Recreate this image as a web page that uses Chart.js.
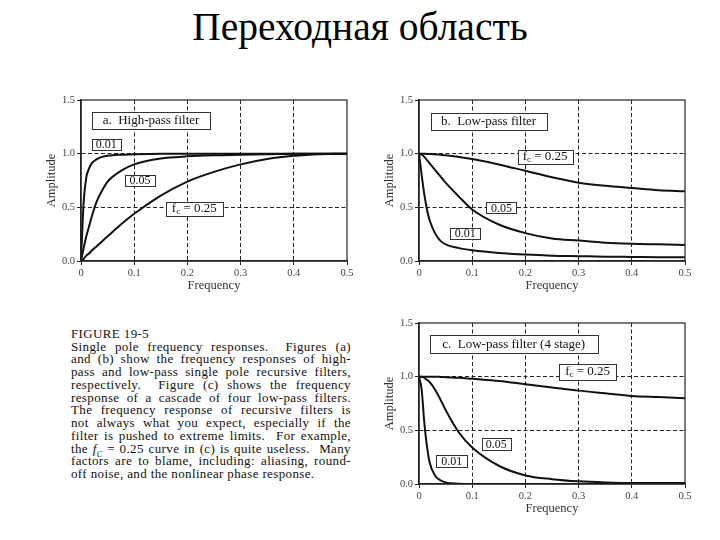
<!DOCTYPE html>
<html>
<head>
<meta charset="utf-8">
<script src="https://cdn.jsdelivr.net/npm/chart.js@4/dist/chart.umd.min.js"></script>
<style>
  html, body { margin: 0; padding: 0; background: #fff; }
  body { width: 720px; height: 540px; position: relative; overflow: hidden; font-family: "Liberation Serif", "DejaVu Serif", serif; }
  #title { position: absolute; left: 0; width: 720px; top: 7px; text-align: center; font-size: 39.5px; line-height: 40px; color: #000; }
  canvas { position: absolute; }
  #caption { position: absolute; left: 71px; top: 328px; width: 280px; font-size: 13px; letter-spacing: 0.37px; line-height: 12.73px; color: #111; }
  #caption .j { text-align: justify; text-align-last: justify; }
  #caption sub { font-size: 8px; line-height: 0; }
</style>
</head>
<body>
<div id="title">Переходная область</div>
<canvas id="chA" width="321" height="209" style="left:40px;top:88px"></canvas>
<canvas id="chB" width="321" height="209" style="left:378px;top:88px"></canvas>
<canvas id="chC" width="321" height="209" style="left:378px;top:311px"></canvas>

<div id="caption">
  <div>FIGURE 19-5</div>
  <div class="j">Single pole frequency responses.&nbsp; Figures (a)</div>
  <div class="j">and (b) show the frequency responses of high-</div>
  <div class="j">pass and low-pass single pole recursive filters,</div>
  <div class="j">respectively.&nbsp; Figure (c) shows the frequency</div>
  <div class="j">response of a cascade of four low-pass filters.</div>
  <div class="j">The frequency response of recursive filters is</div>
  <div class="j">not always what you expect, especially if the</div>
  <div class="j">filter is pushed to extreme limits.&nbsp; For example,</div>
  <div class="j">the <i>f</i><sub><i>C</i></sub> = 0.25 curve in (c) is quite useless.&nbsp; Many</div>
  <div class="j">factors are to blame, including: aliasing, round-</div>
  <div>off noise, and the nonlinear phase response.</div>
</div>

<script>
// sample frequencies
const freq = [0, 0.005, 0.01, 0.015, 0.02, 0.03, 0.04, 0.05, 0.075, 0.1, 0.15, 0.2, 0.25, 0.3, 0.35, 0.4, 0.45, 0.5];

// a. high-pass filter
const hp001 = [0, 0.55, 0.78, 0.86, 0.91, 0.95, 0.97, 0.98, 0.99, 0.995, 1, 1, 1, 1, 1, 1, 1, 1];
const hp005 = [0, 0.12, 0.23, 0.32, 0.41, 0.56, 0.66, 0.74, 0.84, 0.9, 0.955, 0.975, 0.985, 0.99, 0.995, 1, 1, 1];
const hp025 = [0, 0.02, 0.05, 0.07, 0.095, 0.14, 0.185, 0.23, 0.34, 0.44, 0.61, 0.74, 0.83, 0.9, 0.95, 0.98, 0.995, 1];

// b. low-pass filter
const lp001 = [1, 0.8, 0.62, 0.48, 0.38, 0.26, 0.19, 0.155, 0.12, 0.1, 0.075, 0.06, 0.05, 0.045, 0.04, 0.038, 0.036, 0.035];
const lp005 = [1, 0.99, 0.97, 0.94, 0.91, 0.85, 0.79, 0.73, 0.6, 0.48, 0.34, 0.26, 0.21, 0.19, 0.17, 0.16, 0.155, 0.15];
const lp025 = [1, 1, 1, 0.998, 0.997, 0.995, 0.99, 0.985, 0.97, 0.95, 0.9, 0.84, 0.78, 0.73, 0.7, 0.68, 0.66, 0.65];

// c. low-pass filter (4 stage)
const lp4001 = [1, 0.88, 0.57, 0.35, 0.2, 0.08, 0.035, 0.015, 0.003, 0, 0, 0, 0, 0, 0, 0, 0, 0];
const lp4005 = [1, 0.999, 0.99, 0.97, 0.95, 0.88, 0.79, 0.69, 0.48, 0.34, 0.17, 0.08, 0.045, 0.025, 0.015, 0.01, 0.01, 0.01];
const lp4025 = [1, 1, 1, 1, 1, 1, 0.998, 0.995, 0.99, 0.98, 0.96, 0.93, 0.9, 0.87, 0.845, 0.82, 0.81, 0.8];

// tick labels
const xTickLabels = ["0", "0.1", "0.2", "0.3", "0.4", "0.5"];
const yTickLabels = ["0.0", "0.5", "1.0", "1.5"];

const SERIF = '"Liberation Serif", "DejaVu Serif", serif';

function toPoints(ys) {
  return freq.map((x, i) => ({ x: x, y: ys[i] }));
}

function curve(ys) {
  return {
    data: toPoints(ys),
    borderColor: "#111",
    borderWidth: 2,
    pointRadius: 0,
    fill: false,
    cubicInterpolationMode: "monotone"
  };
}

// frame round the plot area
const framePlugin = {
  id: "frame",
  afterDatasetsDraw(chart) {
    const a = chart.chartArea;
    const ctx = chart.ctx;
    ctx.save();
    ctx.strokeStyle = "#222";
    ctx.lineWidth = 1.2;
    ctx.strokeRect(a.left, a.top, a.right - a.left, a.bottom - a.top);
    ctx.restore();
  }
};

// boxed labels inside the plot
const boxLabelPlugin = {
  id: "boxLabels",
  afterDraw(chart, args, opts) {
    const ctx = chart.ctx;
    const sx = chart.scales.x, sy = chart.scales.y;
    (opts.items || []).forEach(it => {
      const cx = sx.getPixelForValue(it.x);
      const cy = sy.getPixelForValue(it.y);
      ctx.save();
      ctx.fillStyle = "#fff";
      ctx.strokeStyle = "#333";
      ctx.lineWidth = 1;
      const l = Math.round(cx - it.w / 2) + 0.5, t = Math.round(cy - it.h / 2) + 0.5;
      ctx.fillRect(l, t, it.w, it.h);
      ctx.strokeRect(l, t, it.w, it.h);
      ctx.fillStyle = "#111";
      ctx.textBaseline = "middle";
      const fs = it.size || 12;
      if (it.fc) {
        // "f" with subscript c, then " = 0.25"
        const p1 = "f", p3 = " = " + it.text;
        ctx.font = (fs - 4) + "px " + SERIF;
        const wc = ctx.measureText("c").width;
        ctx.font = fs + "px " + SERIF;
        const w1 = ctx.measureText(p1).width, w3 = ctx.measureText(p3).width;
        let x = cx - (w1 + wc + w3) / 2;
        ctx.textAlign = "left";
        ctx.fillText(p1, x, cy);
        x += w1;
        ctx.font = (fs - 4) + "px " + SERIF;
        ctx.fillText("c", x, cy + 3);
        x += wc;
        ctx.font = fs + "px " + SERIF;
        ctx.fillText(p3, x, cy);
      } else {
        ctx.font = fs + "px " + SERIF;
        ctx.textAlign = "center";
        ctx.fillText(it.text, cx, cy + 0.5);
      }
      ctx.restore();
    });
  }
};

function gridColor(ctx) {
  const n = ctx.scale.ticks.length;
  return (ctx.index === 0 || ctx.index === n - 1) ? "rgba(0,0,0,0)" : "#222";
}

function axisOpts(min, max, step, labels, title, fit) {
  return {
    type: "linear",
    min: min, max: max,
    afterFit: fit,
    ticks: {
      stepSize: step,
      autoSkip: false,
      maxRotation: 0,
      padding: 2,
      color: "#444",
      font: { family: SERIF, size: 10.5 },
      callback: (v, i) => labels[i]
    },
    grid: {
      color: gridColor,
      tickColor: "#222",
      tickLength: 4,
      tickBorderDash: []
    },
    // in v4 border.dash sets the dash of the grid lines
    border: { display: true, color: "#222", width: 1.5, dash: [4, 2.5] },
    title: {
      display: true,
      text: title,
      color: "#333",
      font: { family: SERIF, size: 12.5 },
      padding: 4
    }
  };
}

function makeChart(id, datasets, labels) {
  return new Chart(document.getElementById(id), {
    type: "line",
    data: { datasets: datasets },
    plugins: [framePlugin, boxLabelPlugin],
    options: {
      responsive: false,
      animation: false,
      devicePixelRatio: 1,
      layout: { padding: { top: 12, right: 14, left: 0, bottom: 0 } },
      plugins: {
        legend: { display: false },
        tooltip: { enabled: false },
        boxLabels: { items: labels }
      },
      scales: {
        x: axisOpts(0, 0.5, 0.1, xTickLabels, "Frequency", s => { s.height = 36; }),
        y: axisOpts(0, 1.5, 0.5, yTickLabels, "Amplitude", s => { s.width = 41; })
      }
    }
  });
}

makeChart("chA", [curve(hp001), curve(hp005), curve(hp025)], [
  { text: "a.  High-pass filter", x: 0.1316, y: 1.31, w: 118, h: 17, size: 13 },
  { text: "0.01", x: 0.0474, y: 1.085, w: 29, h: 11, size: 12 },
  { text: "0.05", x: 0.111, y: 0.75, w: 30, h: 11, size: 12 },
  { text: "0.25", x: 0.213, y: 0.487, w: 57, h: 14, size: 13, fc: true }
]);

makeChart("chB", [curve(lp001), curve(lp005), curve(lp025)], [
  { text: "b.  Low-pass filter", x: 0.1307, y: 1.30, w: 116, h: 17, size: 13 },
  { text: "0.25", x: 0.237, y: 0.969, w: 55, h: 14, size: 13, fc: true },
  { text: "0.05", x: 0.155, y: 0.494, w: 30, h: 11, size: 12 },
  { text: "0.01", x: 0.087, y: 0.256, w: 30, h: 11, size: 12 }
]);

makeChart("chC", [curve(lp4001), curve(lp4005), curve(lp4025)], [
  { text: "c.  Low-pass filter (4 stage)", x: 0.178, y: 1.306, w: 168, h: 18, size: 13 },
  { text: "0.25", x: 0.317, y: 1.043, w: 57, h: 16, size: 13, fc: true },
  { text: "0.05", x: 0.145, y: 0.373, w: 29, h: 12, size: 12 },
  { text: "0.01", x: 0.0616, y: 0.214, w: 31, h: 12, size: 12 }
]);
</script>
</body>
</html>
